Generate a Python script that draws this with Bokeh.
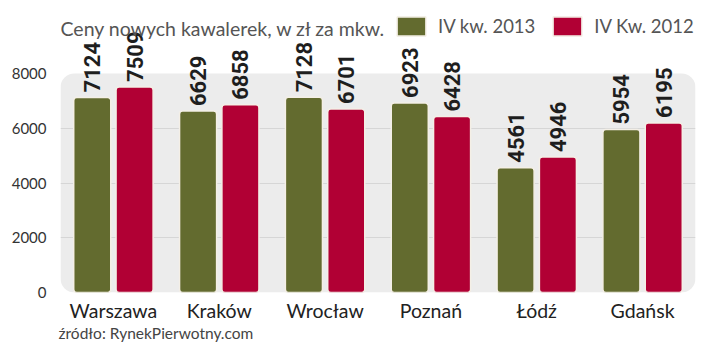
from bokeh.plotting import figure
from bokeh.models import (ColumnDataSource, FactorRange, Range1d, FixedTicker, Label,
                          Legend, LegendItem, BoxAnnotation, Title)
from bokeh.transform import dodge
from bokeh.core.properties import value
from bokeh.embed import file_html
from bokeh.resources import INLINE
import math

cities = ["Warszawa", "Kraków", "Wrocław", "Poznań", "Łódź", "Gdańsk"]
q4_2013 = [7124, 6629, 7128, 6923, 4561, 5954]
q4_2012 = [7509, 6858, 6701, 6428, 4946, 6195]
y_ticks = [0, 2000, 4000, 6000, 8000]
grid_ticks = [2000, 4000, 6000]
y_max = 8000
title_text = "Ceny nowych kawalerek, w zł za mkw."
series_names = ["IV kw. 2013", "IV Kw. 2012"]
source_text = "źródło: RynekPierwotny.com"

GREEN = "#636b2f"
RED = "#b10034"

src = ColumnDataSource(dict(
    city=cities,
    v13=q4_2013,
    v12=q4_2012,
    t13=[str(v) for v in q4_2013],
    t12=[str(v) for v in q4_2012],
))

# frame spans from top of canvas down to the zero line; 8000 sits 73px from top
W, H = 712, 346
frame_top, frame_bottom = 0, 292
px_per_unit = (292 - 73) / y_max
y_top = (frame_bottom - frame_top) / px_per_unit

p = figure(width=W, height=H, x_range=FactorRange(*cities), y_range=Range1d(0, y_top),
           output_backend="svg", toolbar_location=None,
           min_border_left=60, min_border_right=W - 695, min_border_top=0,
           min_border_bottom=H - frame_bottom)
p.outline_line_color = None
p.background_fill_color = "white"
p.border_fill_color = "white"

panel = BoxAnnotation(bottom=0, top=y_max, fill_color="#ececec", fill_alpha=1,
                      line_color=None, border_radius=14, level="image")
p.add_layout(panel)

r13 = p.vbar(x=dodge("city", -0.2, range=p.x_range), top="v13", width=0.35, source=src,
             fill_color=GREEN, line_color="#f4efe6", line_width=1.5, border_radius=3)
r12 = p.vbar(x=dodge("city", 0.2, range=p.x_range), top="v12", width=0.35, source=src,
             fill_color=RED, line_color="#f4efe6", line_width=1.5, border_radius=3)

for tcol, vcol, off in (("t13", "v13", -0.2), ("t12", "v12", 0.2)):
    p.text(x=dodge("city", off, range=p.x_range), y=vcol, text=tcol, source=src,
           angle=math.pi / 2, text_align="left", text_baseline="middle", y_offset=-5,
           text_font=value("Roboto"), text_font_style="bold",
           text_font_size="22px", text_color="#1e1e1e")

p.xgrid.grid_line_color = None
p.ygrid.grid_line_color = "#d6d6d6"
p.ygrid.ticker = FixedTicker(ticks=grid_ticks)

p.yaxis.ticker = FixedTicker(ticks=y_ticks)
p.yaxis.axis_line_color = None
p.yaxis.major_tick_line_color = None
p.yaxis.minor_tick_line_color = None
p.yaxis.major_label_text_font = "Lato"
p.yaxis.major_label_text_font_size = "15px"
p.yaxis.major_label_text_color = "#333333"
p.yaxis.major_label_standoff = 8

p.xaxis.axis_line_color = None
p.xaxis.major_tick_line_color = None
p.xaxis.major_label_text_font = "Lato"
p.xaxis.major_label_text_font_size = "19.5px"
p.xaxis.major_label_text_color = "#222222"
p.xaxis.major_label_standoff = 0

p.add_layout(Label(x=0, y=frame_bottom - 28, x_units="screen", y_units="screen", text=title_text,
                   text_font="Lato", text_font_size="19.5px", text_color="#555555",
                   text_baseline="middle"))

src_title = Title(text=source_text, align="left", offset=-2, standoff=-6,
                  text_font="Lato", text_font_size="15.5px", text_font_style="normal",
                  text_color="#444444")
p.add_layout(src_title, "below")

legend = Legend(items=[LegendItem(label=series_names[0], renderers=[r13]),
                       LegendItem(label=series_names[1], renderers=[r12])],
                orientation="horizontal", location=(333, 254), padding=0, margin=0,
                border_line_color=None, background_fill_alpha=0,
                glyph_width=36, glyph_height=24, label_standoff=9, spacing=14,
                label_text_font="Lato", label_text_font_size="18.5px",
                label_text_color="#555555")
p.add_layout(legend, "center")

open("out.html", "w").write(file_html(p, INLINE))
